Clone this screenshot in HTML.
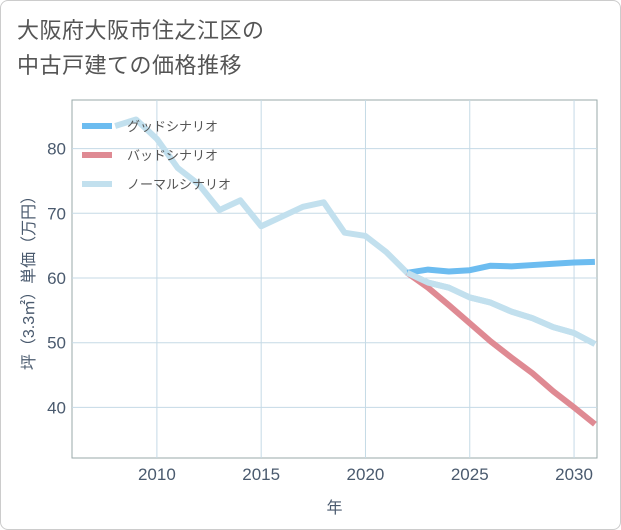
<!DOCTYPE html>
<html><head><meta charset="utf-8"><style>
body{margin:0;background:#fff;font-family:"Liberation Sans","Noto Sans CJK JP",sans-serif;}
#wrap{position:relative;width:619px;height:528px;border:1px solid #ccc;border-radius:8px;overflow:hidden;}
#title{position:absolute;left:16px;top:12px;font-size:22px;line-height:35px;color:#555;letter-spacing:0.5px}
</style></head><body>
<div id="wrap">
<div id="title">大阪府大阪市住之江区の<br>中古戸建ての価格推移</div>
<svg id="chart" width="621" height="530" style="position:absolute;left:-1px;top:-1px"></svg>
</div>
<script>
const normalYears=[2008,2009,2010,2011,2012,2013,2014,2015,2016,2017,2018,2019,2020,2021,2022,2023,2024,2025,2026,2027,2028,2029,2030,2031];
const normalValues=[83.5,84.5,81.5,77,74.5,70.5,72,68,69.5,71,71.7,67,66.5,64,60.8,59.3,58.5,57,56.2,54.8,53.8,52.4,51.5,49.8];
const forecastYears=[2022,2023,2024,2025,2026,2027,2028,2029,2030,2031];
const goodValues=[60.8,61.3,61,61.2,61.9,61.8,62,62.2,62.4,62.5];
const badValues=[60.8,58.5,55.8,53,50.2,47.7,45.3,42.5,40,37.4];
const xTicks=[2010,2015,2020,2025,2030];
const yTicks=[40,50,60,70,80];
const L=72,R=597,T=100,B=458;
const x=v=>L+(v-2005.93)/(2031.1-2005.93)*(R-L);
const y=v=>278-(v-60)*6.47;
const svg=document.getElementById('chart');
const NS='http://www.w3.org/2000/svg';
function mk(t,a){const e=document.createElementNS(NS,t);for(const k in a)e.setAttribute(k,a[k]);svg.appendChild(e);return e;}
let r=mk('rect',{x:L,y:T,width:R-L,height:B-T,fill:'none',stroke:'#9aa',"stroke-width":1});


xTicks.forEach(t=>{
 const g=mk('line',{x1:x(t),x2:x(t),y1:T,y2:B,stroke:'#c5dae6'});
 
 
 const tx=mk('text',{x:x(t),y:B+22,'text-anchor':'middle','font-size':17,fill:'#4a5a6e'});
 tx.textContent=t;
 
 
});
yTicks.forEach(t=>{
 const g=mk('line',{x1:L,x2:R,y1:y(t),y2:y(t),stroke:'#c5dae6'});
 
 
 const tx=mk('text',{x:L-6,y:y(t)+6,'text-anchor':'end','font-size':17,fill:'#4a5a6e'});
 tx.textContent=t;
 
 
});
const xt=mk('text',{x:(L+R)/2,y:513,'text-anchor':'middle','font-size':16,fill:'#4a5a6e'});
xt.textContent='年';


const yt=mk('text',{x:0,y:0,'text-anchor':'middle','font-size':16,fill:'#4a5a6e',transform:'translate(34,279) rotate(-90)'});
yt.textContent='坪（3.3㎡）単価（万円）';


function line(xs,vs,c,name){
 const p=mk('polyline',{points:xs.map((v,i)=>x(v)+','+y(vs[i])).join(' '),fill:'none',stroke:c,'stroke-width':6,'stroke-linejoin':'round'});
 
 
}
line(normalYears,normalValues,'#c2e0ee','normal-scenario-line');
line(forecastYears,badValues,'#df8a93','bad-scenario-line');
line(forecastYears,goodValues,'#6cbcf0','good-scenario-line');
line(normalYears.slice(14),normalValues.slice(14),'#c2e0ee','normal-scenario-line-forecast');
const leg=[['グッドシナリオ','#6cbcf0',126],['バッドシナリオ','#df8a93',155],['ノーマルシナリオ','#c2e0ee',184]];
leg.forEach(l=>{
 const s=mk('line',{x1:82,x2:112,y1:l[2],y2:l[2],stroke:l[1],'stroke-width':6});
 
 
 const t=mk('text',{x:127,y:l[2]+5,'font-size':13,fill:'#555'});
 t.textContent=l[0];
 
 
});
</script>
</body></html>
